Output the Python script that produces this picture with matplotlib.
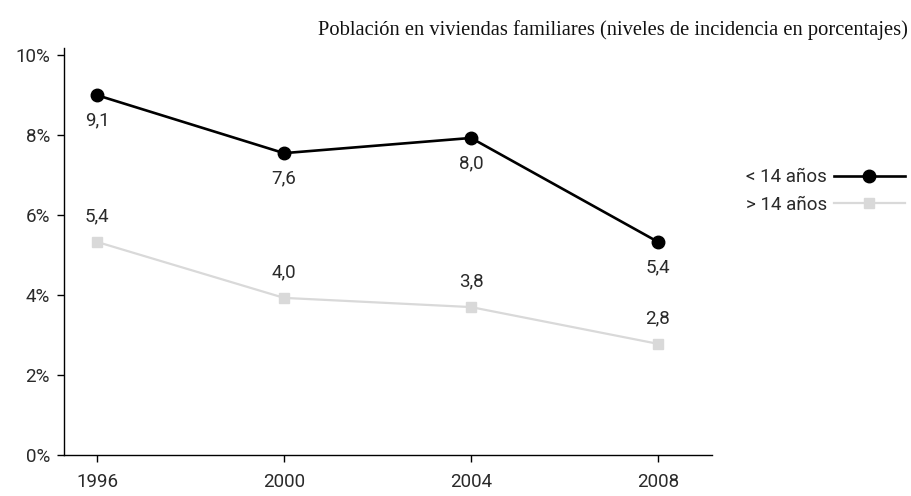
import matplotlib
matplotlib.use('Agg')
import matplotlib.pyplot as plt
from matplotlib.ticker import FuncFormatter

# data
years = [1996, 2000, 2004, 2008]
menores = [9.0, 7.55, 7.93, 5.33]        # < 14 años (posición de los puntos)
mayores = [5.33, 3.93, 3.70, 2.78]       # > 14 años
menores_lbl = ['9,1', '7,6', '8,0', '5,4']
mayores_lbl = ['5,4', '4,0', '3,8', '2,8']
series_names = ['< 14 años', '> 14 años']
title = 'Población en viviendas familiares (niveles de incidencia en porcentajes)'

plt.rcParams['font.family'] = ['Roboto', 'DejaVu Sans']

fig = plt.figure(figsize=(9.11, 4.96), dpi=100)
ax = fig.add_axes([64/911, 1-455/496, (712-64)/911, (455-48)/496])

l1, = ax.plot(years, menores, color='black', lw=1.9, marker='o', ms=9,
              label=series_names[0], zorder=3)
l2, = ax.plot(years, mayores, color='#d9d9d9', lw=1.6, marker='s', ms=6.5,
              label=series_names[1], zorder=2)

for x, y, t in zip(years, menores, menores_lbl):
    ax.annotate(t, (x, y), xytext=(0, -18), textcoords='offset points',
                ha='center', va='center', fontsize=13.5, color='#2a2a2a')
for x, y, t in zip(years, mayores, mayores_lbl):
    ax.annotate(t, (x, y), xytext=(0, 18.5), textcoords='offset points',
                ha='center', va='center', fontsize=13.5, color='#2a2a2a')

ax.set_xlim(1996 - 33/187*4, 2008 + 54/187*4)
ax.set_ylim(0, 10.18)
ax.set_xticks(years)
ax.set_yticks([0, 2, 4, 6, 8, 10])
ax.yaxis.set_major_formatter(FuncFormatter(lambda v, p: f'{v:.0f}%'))

for s in ['top', 'right']:
    ax.spines[s].set_visible(False)
for s in ['left', 'bottom']:
    ax.spines[s].set_linewidth(1.0)
ax.tick_params(axis='both', direction='out', length=5, width=1.0,
               labelsize=13.5, labelcolor='#2a2a2a')
ax.tick_params(axis='x', pad=8)
ax.tick_params(axis='y', pad=5)

fig.text(908/911, 1-30/496, title, ha='right', va='center',
         fontsize=14.8, family='Liberation Serif', color='#111')

fig.legend(handles=[l1, l2], loc='center right', bbox_to_anchor=(905/911, 1-191/496),
           frameon=False, markerfirst=False, handlelength=3.8, fontsize=13.5,
           labelspacing=0.5, handletextpad=0.35, borderaxespad=0, borderpad=0,
           labelcolor='#2a2a2a')

fig.savefig('out.png', dpi=100, facecolor='white')
